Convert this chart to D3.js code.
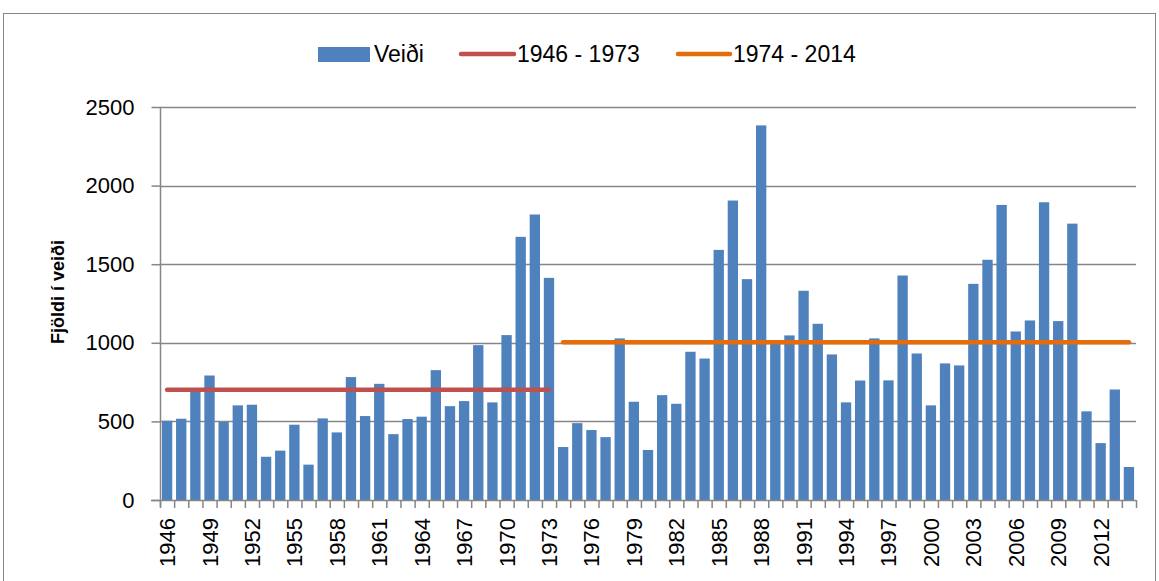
<!DOCTYPE html>
<html>
<head>
<meta charset="utf-8">
<script src="https://cdn.jsdelivr.net/npm/d3@7"></script>
<style>
  body { margin: 0; background: #fff; }
  svg text { font-family: "Liberation Sans", "DejaVu Sans", sans-serif; fill: #000; }
</style>
</head>
<body>
<svg id="chart" width="1159" height="581"></svg>
<script>
// chart values
const years = d3.range(1946, 2015)
const veidi = [
  504, 517, 690, 792, 496, 602, 606, 275, 314, 479,
  225, 519, 430, 782, 534, 739, 419, 515, 530, 826,
  597, 629, 985, 621, 1049, 1674, 1816, 1413,
  337, 489, 445, 400, 1028, 625, 318, 667, 612, 943,
  900, 1591, 1905, 1405, 2383, 995, 1047, 1331, 1121, 926,
  621, 760, 1028, 761, 1428, 932, 602, 869, 856, 1375,
  1528, 1877, 1072, 1142, 1894, 1138, 1758, 564, 362, 703,
  210
]
const period1 = { label: "1946 - 1973", from: 1946, to: 1973, value: 701 }
const period2 = { label: "1974 - 2014", from: 1974, to: 2014, value: 1003 }
const yTicks = [0, 500, 1000, 1500, 2000, 2500]
const xLabelYears = years.filter(y => (y - 1946) % 3 === 0)

const colBar = "#4F81BD", colRed = "#C0504D", colOrange = "#E46C0A", colGrid = "#868686"

var svg = d3.select("#chart")

// outer frame
svg.append("rect")
  .attr("x", 3.5).attr("y", 13.5)
  .attr("width", 1152).attr("height", 600)
  .attr("fill", "none").attr("stroke", colGrid).attr("stroke-width", 1)

var plotL = 160, plotR = 1136, plotT = 107, plotB = 500

var x = d3.scaleBand().domain(years).range([plotL, plotR]).paddingInner(0.27).paddingOuter(0.135)
var y = d3.scaleLinear().domain([0, 2500]).range([plotB, plotT])

// gridlines
svg.append("g")
  .selectAll("line")
  .data(yTicks.slice(1))
  .enter()
  .append("line")
  .attr("x1", plotL).attr("x2", plotR)
  .attr("y1", d => Math.round(y(d)) + 0.5).attr("y2", d => Math.round(y(d)) + 0.5)
  .attr("stroke", colGrid).attr("stroke-width", 1.5)

// bars
svg.append("g")
  .selectAll("rect")
  .data(veidi)
  .enter()
  .append("rect")
  .attr("x", (d, i) => x(years[i]))
  .attr("width", x.bandwidth())
  .attr("y", d => y(d))
  .attr("height", d => y(0) - y(d))
  .attr("fill", colBar)

// y axis
var yAxis = svg.append("g")
  .attr("transform", `translate(${plotL + 0.5},0)`)
  .call(d3.axisLeft(y).tickValues(yTicks).tickFormat(d3.format("d")).tickSize(9).tickPadding(17))
yAxis.select(".domain").remove()
yAxis.selectAll("line").attr("stroke", colGrid).attr("stroke-width", 1.5)
yAxis.selectAll("text").style("font-size", "22px").attr("fill", "#000").attr("font-family", null)
svg.append("line")
  .attr("x1", plotL + 0.5).attr("x2", plotL + 0.5)
  .attr("y1", plotT).attr("y2", plotB + 7)
  .attr("stroke", colGrid).attr("stroke-width", 1.5)

// x axis: ticks at band boundaries
svg.append("line")
  .attr("x1", plotL - 9).attr("x2", plotR)
  .attr("y1", plotB + 0.5).attr("y2", plotB + 0.5)
  .attr("stroke", colGrid).attr("stroke-width", 1.5)
svg.append("g")
  .selectAll("line")
  .data(d3.range(years.length + 1))
  .enter()
  .append("line")
  .attr("x1", i => plotL + i * x.step() + 0.5)
  .attr("x2", i => plotL + i * x.step() + 0.5)
  .attr("y1", plotB).attr("y2", plotB + 8)
  .attr("stroke", colGrid).attr("stroke-width", 1.5)

svg.append("g")
  .selectAll("text")
  .data(xLabelYears)
  .enter()
  .append("text")
  .attr("transform", d => `translate(${x(d) + x.bandwidth() / 2 + 8},${plotB + 18}) rotate(-90)`)
  .attr("text-anchor", "end")
  .style("font-size", "22px")
  .text(d => d)

// average lines
function periodLine(p, col) {
  svg.append("line")
    .attr("x1", x(p.from) + x.bandwidth() / 2)
    .attr("x2", x(p.to) + x.bandwidth() / 2)
    .attr("y1", y(p.value)).attr("y2", y(p.value))
    .attr("stroke", col).attr("stroke-width", 4.5)
    .attr("stroke-linecap", "round")
}
periodLine(period1, colRed)
periodLine(period2, colOrange)

// y title
svg.append("text")
  .attr("transform", "translate(64,292) rotate(-90)")
  .attr("text-anchor", "middle")
  .style("font-size", "18px")
  .style("font-weight", "bold")
  .text("Fjöldi í veiði")

// legend
var lg = svg.append("g").attr("transform", "translate(318,54)")
lg.append("rect").attr("x", 0).attr("y", -7).attr("width", 52).attr("height", 15).attr("fill", colBar)
lg.append("text").attr("x", 56).attr("y", 8).style("font-size", "23px").text("Veiði")
lg.append("line").attr("x1", 143).attr("x2", 196).attr("y1", 0).attr("y2", 0)
  .attr("stroke", colRed).attr("stroke-width", 4.5).attr("stroke-linecap", "round")
lg.append("text").attr("x", 199).attr("y", 8).style("font-size", "23px").text(period1.label)
lg.append("line").attr("x1", 360).attr("x2", 412).attr("y1", 0).attr("y2", 0)
  .attr("stroke", colOrange).attr("stroke-width", 4.5).attr("stroke-linecap", "round")
lg.append("text").attr("x", 415).attr("y", 8).style("font-size", "23px").text(period2.label)
</script>
</body>
</html>
